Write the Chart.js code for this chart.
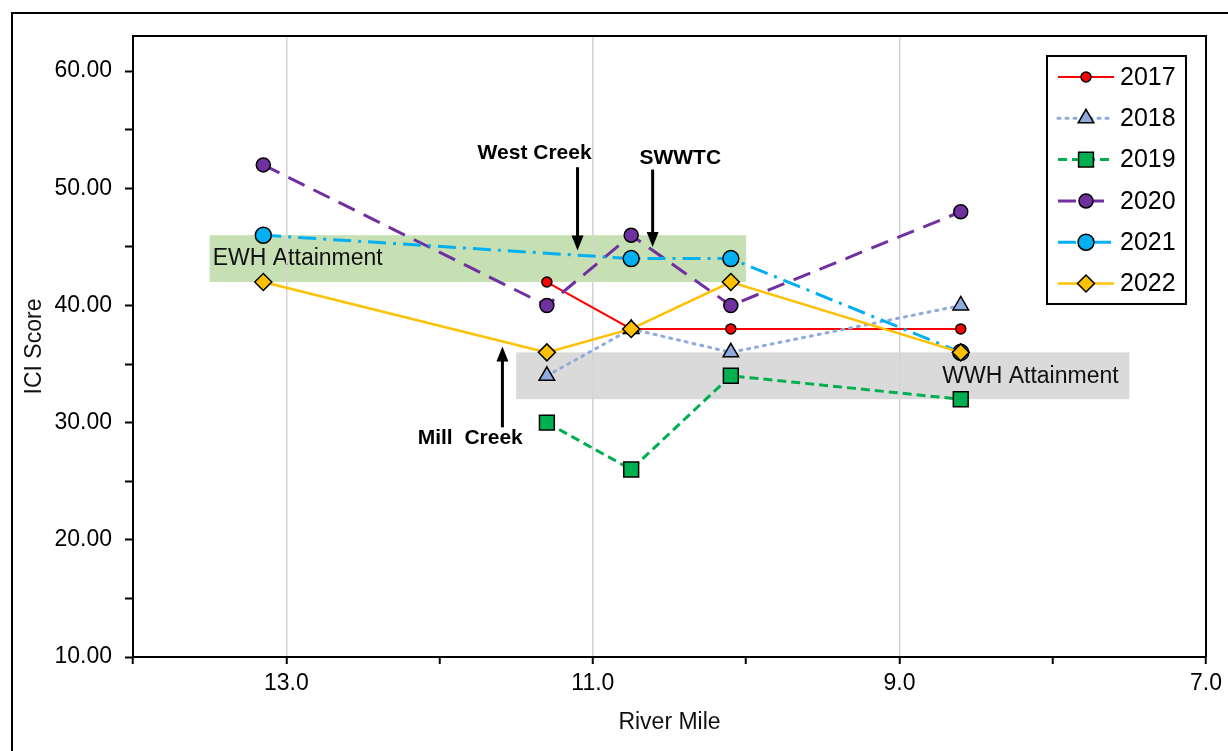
<!DOCTYPE html>
<html>
<head>
<meta charset="utf-8">
<script src="https://cdn.jsdelivr.net/npm/chart.js@4.4.1/dist/chart.umd.min.js"></script>
<style>
  body { margin: 0; overflow: hidden; background: #fff; }
  #frame { position: absolute; left: 11px; top: 12px; width: 1400px; height: 900px;
           border-left: 2px solid #000; border-top: 2px solid #000; }
  #wrap { position: absolute; left: 0; top: 0; width: 1228px; height: 751px; }
</style>
</head>
<body>
<div id="frame"></div>
<div id="wrap"><canvas id="ici" width="1228" height="751"></canvas></div>
<script>
// river mile of each sampling site
let sites = [13.15, 11.3, 10.75, 10.1, 8.6];
let years = ['2017', '2018', '2019', '2020', '2021', '2022'];

// ICI scores per year (null = not sampled)
let s2017 = [null, 42, 38, 38, 38];
let s2018 = [null, 34, 38, 36, 40];
let s2019 = [null, 30, 26, 34, 32];
let s2020 = [52, 40, 46, 40, 48];
let s2021 = [46, null, 44, 44, 36];
let s2022 = [42, 36, 38, 42, 36];

let xTicks = [14, 13, 12, 11, 10, 9, 8, 7];
let yTicks = [10, 15, 20, 25, 30, 35, 40, 45, 50, 55, 60];

// attainment bands [x from, x to, y low, y high]
let ewhBand = [13.5, 10.0, 42, 46];
let wwhBand = [11.5, 7.5, 32, 36];

// text labels with arrows: label x, label y, arrow x, arrow from, arrow to
let notes = [
    ['West Creek', 11.38, 53.0, 11.10, 51.8, 44.7],
    ['SWWTC', 10.43, 52.6, 10.61, 51.6, 45.0],
    ['Mill  Creek', 11.80, 28.7, 11.59, 29.6, 36.5]
];

const FONT = '"Liberation Sans", Arial, sans-serif';

let styles = [
    { color: '#FF0000', fill: '#FF0000', dash: [], width: 2, point: 'circle', r: 5 },
    { color: '#8FAADC', fill: '#8FAADC', dash: [2, 6], width: 3, point: 'triangle', r: 9, cap: 'round' },
    { color: '#00B050', fill: '#00B050', dash: [9, 5], width: 3, point: 'rect', r: 10.5 },
    { color: '#7030A0', fill: '#7030A0', dash: [18, 10], width: 3, point: 'circle', r: 7 },
    { color: '#00B0F0', fill: '#00B0F0', dash: [18, 7, 3, 7], width: 3, point: 'circle', r: 8 },
    { color: '#FFC000', fill: '#FFC000', dash: [], width: 2.5, point: 'rectRot', r: 8.5 }
];

let allScores = [s2017, s2018, s2019, s2020, s2021, s2022];

let datasets = years.map((y, i) => {
    let pts = [];
    allScores[i].forEach((v, j) => {
        if (v !== null) pts.push({ x: sites[j], y: v });
    });
    let st = styles[i];
    return {
        label: y,
        data: pts,
        order: years.length - i, // later years drawn on top
        showLine: true,
        borderColor: st.color,
        borderWidth: st.width,
        borderDash: st.dash,
        borderCapStyle: st.cap || 'butt',
        pointStyle: st.point,
        pointRadius: st.r,
        pointHoverRadius: st.r,
        pointBackgroundColor: st.fill,
        pointBorderColor: '#000',
        pointBorderWidth: 1.5
    };
});

function drawMarker(ctx, st, x, y) {
    ctx.save();
    ctx.setLineDash([]);
    ctx.fillStyle = st.fill;
    ctx.strokeStyle = '#000';
    ctx.lineWidth = 1.5;
    if (Chart.helpers && Chart.helpers.drawPoint) {
        Chart.helpers.drawPoint(ctx, { pointStyle: st.point, radius: st.r, rotation: 0, borderWidth: 1.5 }, x, y);
    } else {
        ctx.beginPath();
        ctx.arc(x, y, st.r, 0, Math.PI * 2);
        ctx.fill();
        ctx.stroke();
    }
    ctx.restore();
}

const overlay = {
    id: 'overlay',
    beforeDraw(chart) {
        let ctx = chart.ctx;
        let xs = chart.scales.x, ys = chart.scales.y;
        ctx.save();
        [[ewhBand, '#C6E0B4'], [wwhBand, '#DADADA']].forEach(([b, c]) => {
            let x1 = xs.getPixelForValue(b[0]), x2 = xs.getPixelForValue(b[1]);
            let y1 = ys.getPixelForValue(b[3]), y2 = ys.getPixelForValue(b[2]);
            ctx.fillStyle = c;
            ctx.fillRect(x1, y1, x2 - x1, y2 - y1);
        });
        ctx.fillStyle = '#111';
        ctx.font = '23px ' + FONT;
        ctx.textBaseline = 'middle';
        ctx.textAlign = 'left';
        ctx.fillText('EWH Attainment', xs.getPixelForValue(13.48), ys.getPixelForValue(44.0));
        ctx.textAlign = 'right';
        ctx.fillText('WWH Attainment', xs.getPixelForValue(7.57), ys.getPixelForValue(33.9));
        ctx.restore();
    },
    afterDraw(chart) {
        let ctx = chart.ctx;
        let xs = chart.scales.x, ys = chart.scales.y;
        let a = chart.chartArea;
        ctx.save();
        // top and right frame of the plot
        ctx.strokeStyle = '#000';
        ctx.lineWidth = 2;
        ctx.beginPath();
        ctx.moveTo(a.left, a.top);
        ctx.lineTo(a.right, a.top);
        ctx.lineTo(a.right, a.bottom);
        ctx.stroke();

        // arrows and notes
        ctx.fillStyle = '#000';
        ctx.font = 'bold 21px ' + FONT;
        ctx.textAlign = 'center';
        ctx.textBaseline = 'middle';
        notes.forEach(n => {
            ctx.fillText(n[0], xs.getPixelForValue(n[1]), ys.getPixelForValue(n[2]));
            let px = xs.getPixelForValue(n[3]);
            let y0 = ys.getPixelForValue(n[4]);
            let y1 = ys.getPixelForValue(n[5]);
            let dir = y1 > y0 ? 1 : -1;
            ctx.lineWidth = 3;
            ctx.beginPath();
            ctx.moveTo(px, y0);
            ctx.lineTo(px, y1 - dir * 12);
            ctx.stroke();
            ctx.beginPath();
            ctx.moveTo(px, y1);
            ctx.lineTo(px - 6, y1 - dir * 15);
            ctx.lineTo(px + 6, y1 - dir * 15);
            ctx.closePath();
            ctx.fill();
        });

        // legend
        let lx = 1047, ly = 56, lw = 139, lh = 248;
        ctx.fillStyle = '#fff';
        ctx.fillRect(lx, ly, lw, lh);
        ctx.lineWidth = 2;
        ctx.strokeStyle = '#000';
        ctx.strokeRect(lx, ly, lw, lh);
        years.forEach((y, i) => {
            let st = styles[i];
            let cy = 77 + i * 41.3;
            ctx.save();
            ctx.strokeStyle = st.color;
            ctx.lineWidth = st.width;
            ctx.setLineDash(st.dash);
            ctx.lineCap = st.cap || 'butt';
            ctx.beginPath();
            ctx.moveTo(1058, cy);
            ctx.lineTo(1114, cy);
            ctx.stroke();
            ctx.restore();
            drawMarker(ctx, st, 1086, cy);
            ctx.fillStyle = '#000';
            ctx.font = '25px ' + FONT;
            ctx.textAlign = 'left';
            ctx.textBaseline = 'middle';
            ctx.fillText(y, 1120, cy + 1);
        });
        ctx.restore();
    }
};

let ctx = document.querySelector('#ici');
let chart = new Chart(ctx, {
    type: 'scatter',
    data: { datasets: datasets },
    plugins: [overlay],
    options: {
        responsive: false,
        animation: false,
        devicePixelRatio: 1,
        layout: { padding: { left: 0, top: 36, right: 21, bottom: 0 } },
        plugins: { legend: { display: false }, tooltip: { enabled: false } },
        scales: {
            x: {
                type: 'linear',
                reverse: true,
                min: 7,
                max: 14,
                afterBuildTicks: s => { s.ticks = xTicks.map(v => ({ value: v })); },
                afterFit: s => { s.height = 94; },
                ticks: {
                    autoSkip: false,
                    maxRotation: 0,
                    padding: 6,
                    color: '#000',
                    font: { family: FONT, size: 23 },
                    callback: v => (v % 2 === 1 ? v.toFixed(1) : '')
                },
                grid: {
                    color: c => ([13, 11, 9].includes(c.tick && c.tick.value) ? '#D4D4D4' : 'rgba(0,0,0,0)'),
                    lineWidth: 1.5,
                    tickColor: '#000',
                    tickWidth: 2,
                    tickLength: 7
                },
                border: { color: '#000', width: 2 },
                title: {
                    display: true,
                    text: 'River Mile',
                    color: '#111',
                    font: { family: FONT, size: 23 },
                    padding: { top: 0, bottom: 15 }
                }
            },
            y: {
                min: 10,
                max: 63,
                afterBuildTicks: s => { s.ticks = yTicks.map(v => ({ value: v })); },
                afterFit: s => { s.width = 133; },
                ticks: {
                    padding: 13,
                    color: '#000',
                    font: { family: FONT, size: 23 },
                    callback: v => (v % 10 === 0 ? v.toFixed(2) : '')
                },
                grid: {
                    color: 'rgba(0,0,0,0)',
                    tickColor: '#000',
                    tickWidth: 2,
                    tickLength: 8
                },
                border: { color: '#000', width: 2 },
                title: {
                    display: true,
                    text: 'ICI Score',
                    color: '#111',
                    font: { family: FONT, size: 23 },
                    padding: { top: 21, bottom: 0 }
                }
            }
        }
    }
});
</script>
</body>
</html>
